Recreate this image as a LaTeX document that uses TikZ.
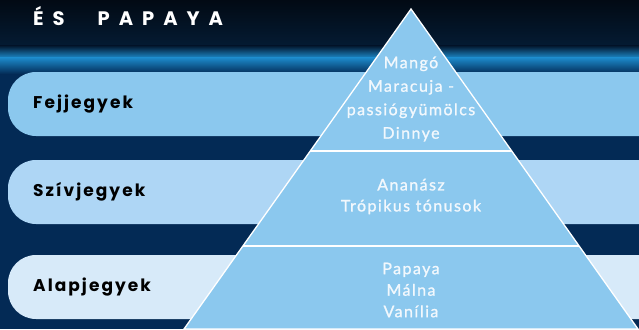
\documentclass[tikz,border=0pt]{standalone}
\usepackage{fontspec}
\setmainfont{Lato}
\newfontfamily\titlefont[LetterSpace=46]{Poppins}
\newfontfamily\notefont[LetterSpace=12]{Poppins}
\newfontfamily\fruitfont[LetterSpace=9,FakeBold=1.2]{Lato}
\usepackage{tikz}
\usetikzlibrary{positioning}
\definecolor{nightblue}{HTML}{032A55}
\definecolor{bgtop}{HTML}{020A14}
\definecolor{bgdeep}{HTML}{041B33}
\definecolor{glowblue}{HTML}{1C88C8}
\definecolor{topband}{HTML}{8BC8EE}
\definecolor{heartband}{HTML}{AED6F5}
\definecolor{baseband}{HTML}{D7EAF9}
\definecolor{fruitwhite}{HTML}{F2F8FD}

\begin{document}
\begin{tikzpicture}[x=1pt,y=-1pt,
    band/.style={rounded corners=28pt},
    notename/.style={anchor=west,inner sep=0pt,font=\notefont\bfseries\fontsize{17}{20}\selectfont},
    fruits/.style={align=center,inner sep=0pt,text=fruitwhite,font=\fruitfont\fontsize{16}{23.5}\selectfont}]
    \def\pyramid{(411,9) -- (638,329) -- (184,329) -- cycle}
    \useasboundingbox (0,0) rectangle (639,329);
    \clip (0,0) rectangle (639,329);
    % background
    \fill[nightblue] (0,0) rectangle (639,329);
    \shade[top color=bgtop,bottom color=bgdeep] (0,0) rectangle (639,46);
    \shade[top color=bgdeep,bottom color=glowblue] (0,46) rectangle (639,58);
    \shade[top color=glowblue,bottom color=nightblue] (0,58) rectangle (639,74);
    \node[inner sep=0pt,anchor=base west,text=white,font=\titlefont\bfseries\fontsize{19.5}{20}\selectfont] (title) at (33,25.5) {ÉS\hspace{33pt}PAPAYA};
    % bands
    \fill[topband,band] (8,72) rectangle (700,136);
    \fill[heartband,band] (8,160) rectangle (700,224);
    \fill[baseband,band] (8,255) rectangle (700,319);
    \node[notename] (fej) at (33,104) {Fejjegyek};
    \node[notename] (sziv) at (33,192) {Szívjegyek};
    \node[notename] (alap) at (33,287) {Alapjegyek};
    % pyramid
    \fill[topband] \pyramid;
    \begin{scope}
      \clip \pyramid;
      \draw[white,line width=1.3pt] (0,151) -- (639,151) (0,246) -- (639,246);
    \end{scope}
    \draw[white,line width=1.3pt,line join=miter] \pyramid;
    \node[fruits] (felso) at (411,99) {Mangó\\Maracuja -\\passiógyümölcs\\Dinnye};
    \node[fruits,font=\fruitfont\fontsize{16}{21}\selectfont] (kozep) at (411,196.5) {Ananász\\Trópikus tónusok};
    \node[fruits,font=\fruitfont\fontsize{16}{21.5}\selectfont] (also) at (411,290) {Papaya\\Málna\\Vanília};
\end{tikzpicture}
\end{document}
